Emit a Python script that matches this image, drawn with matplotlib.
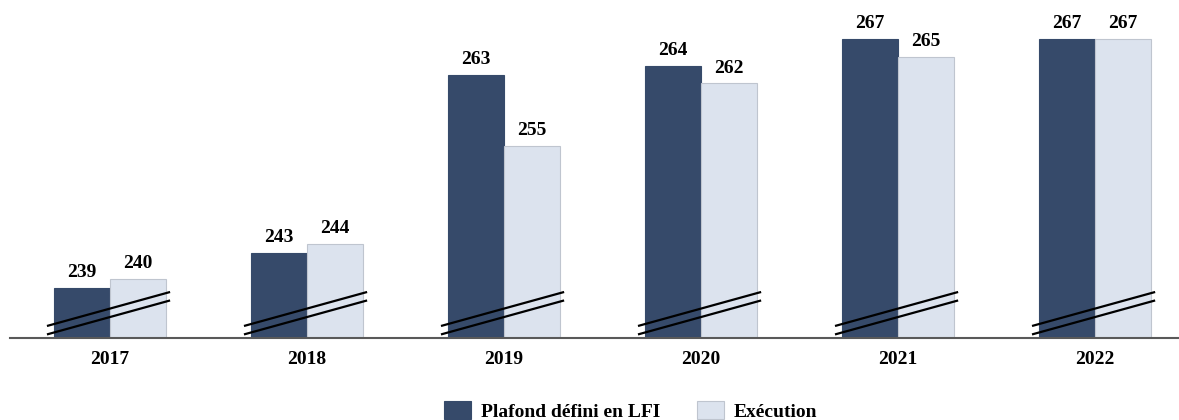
import numpy as np
import matplotlib
matplotlib.use("Agg")
import matplotlib.pyplot as plt

years = ["2017", "2018", "2019", "2020", "2021", "2022"]
plafond = [239, 243, 263, 264, 267, 267]
execution = [240, 244, 255, 262, 265, 267]
series_names = ["Plafond défini en LFI", "Exécution"]

dark = "#364a6a"
light = "#dce3ee"
edge_light = "#bfc5cf"

plt.rcParams["font.family"] = ["Liberation Serif", "DejaVu Serif"]
plt.rcParams["font.weight"] = "bold"

fig = plt.figure(figsize=(11.79, 4.20), dpi=100)
ax = fig.add_axes([10 / 1179, 82 / 420, 1168 / 1179, 338 / 420])

x = np.arange(len(years))
w = 0.284
ymin = 233.4
fs = 14

b1 = ax.bar(x - w / 2, np.array(plafond) - ymin, w, bottom=ymin, color=dark,
            edgecolor=dark, linewidth=0.8, label=series_names[0], zorder=2)
b2 = ax.bar(x + w / 2, np.array(execution) - ymin, w, bottom=ymin, color=light,
            edgecolor=edge_light, linewidth=0.8, label=series_names[1], zorder=2)

for i in range(len(years)):
    ax.annotate(str(plafond[i]), (x[i] - w / 2, plafond[i]), xytext=(0, 5),
                textcoords="offset points", ha="center", va="bottom",
                fontsize=fs, fontweight="bold")
    ax.annotate(str(execution[i]), (x[i] + w / 2, execution[i]), xytext=(0, 5),
                textcoords="offset points", ha="center", va="bottom",
                fontsize=fs, fontweight="bold")
    # axis-break marks
    for dy in (0.0, -0.95):
        ax.plot([x[i] - 0.32, x[i] + 0.305], [234.75 + dy, 238.57 + dy],
                color="black", lw=1.6, zorder=3, solid_capstyle="butt")

ax.set_xlim(-0.5076, 5.421)
ax.set_ylim(ymin, ymin + 338 / 8.9)
ax.set_xticks(x)
ax.set_xticklabels(years, fontsize=fs, fontweight="bold")
ax.tick_params(axis="x", length=0, pad=9)
ax.set_yticks([])
for s in ["top", "left", "right"]:
    ax.spines[s].set_visible(False)
ax.spines["bottom"].set_color("#595959")
ax.spines["bottom"].set_linewidth(1.5)
ax.spines["bottom"].set_zorder(4)

fig.legend(handles=[b1, b2], loc="center", bbox_to_anchor=(0.535, 1 - 411 / 420),
           ncol=2, frameon=False, fontsize=fs, handlelength=1.4,
           handleheight=1.0, handletextpad=0.5, columnspacing=1.9)

fig.savefig("out.png", dpi=100)
